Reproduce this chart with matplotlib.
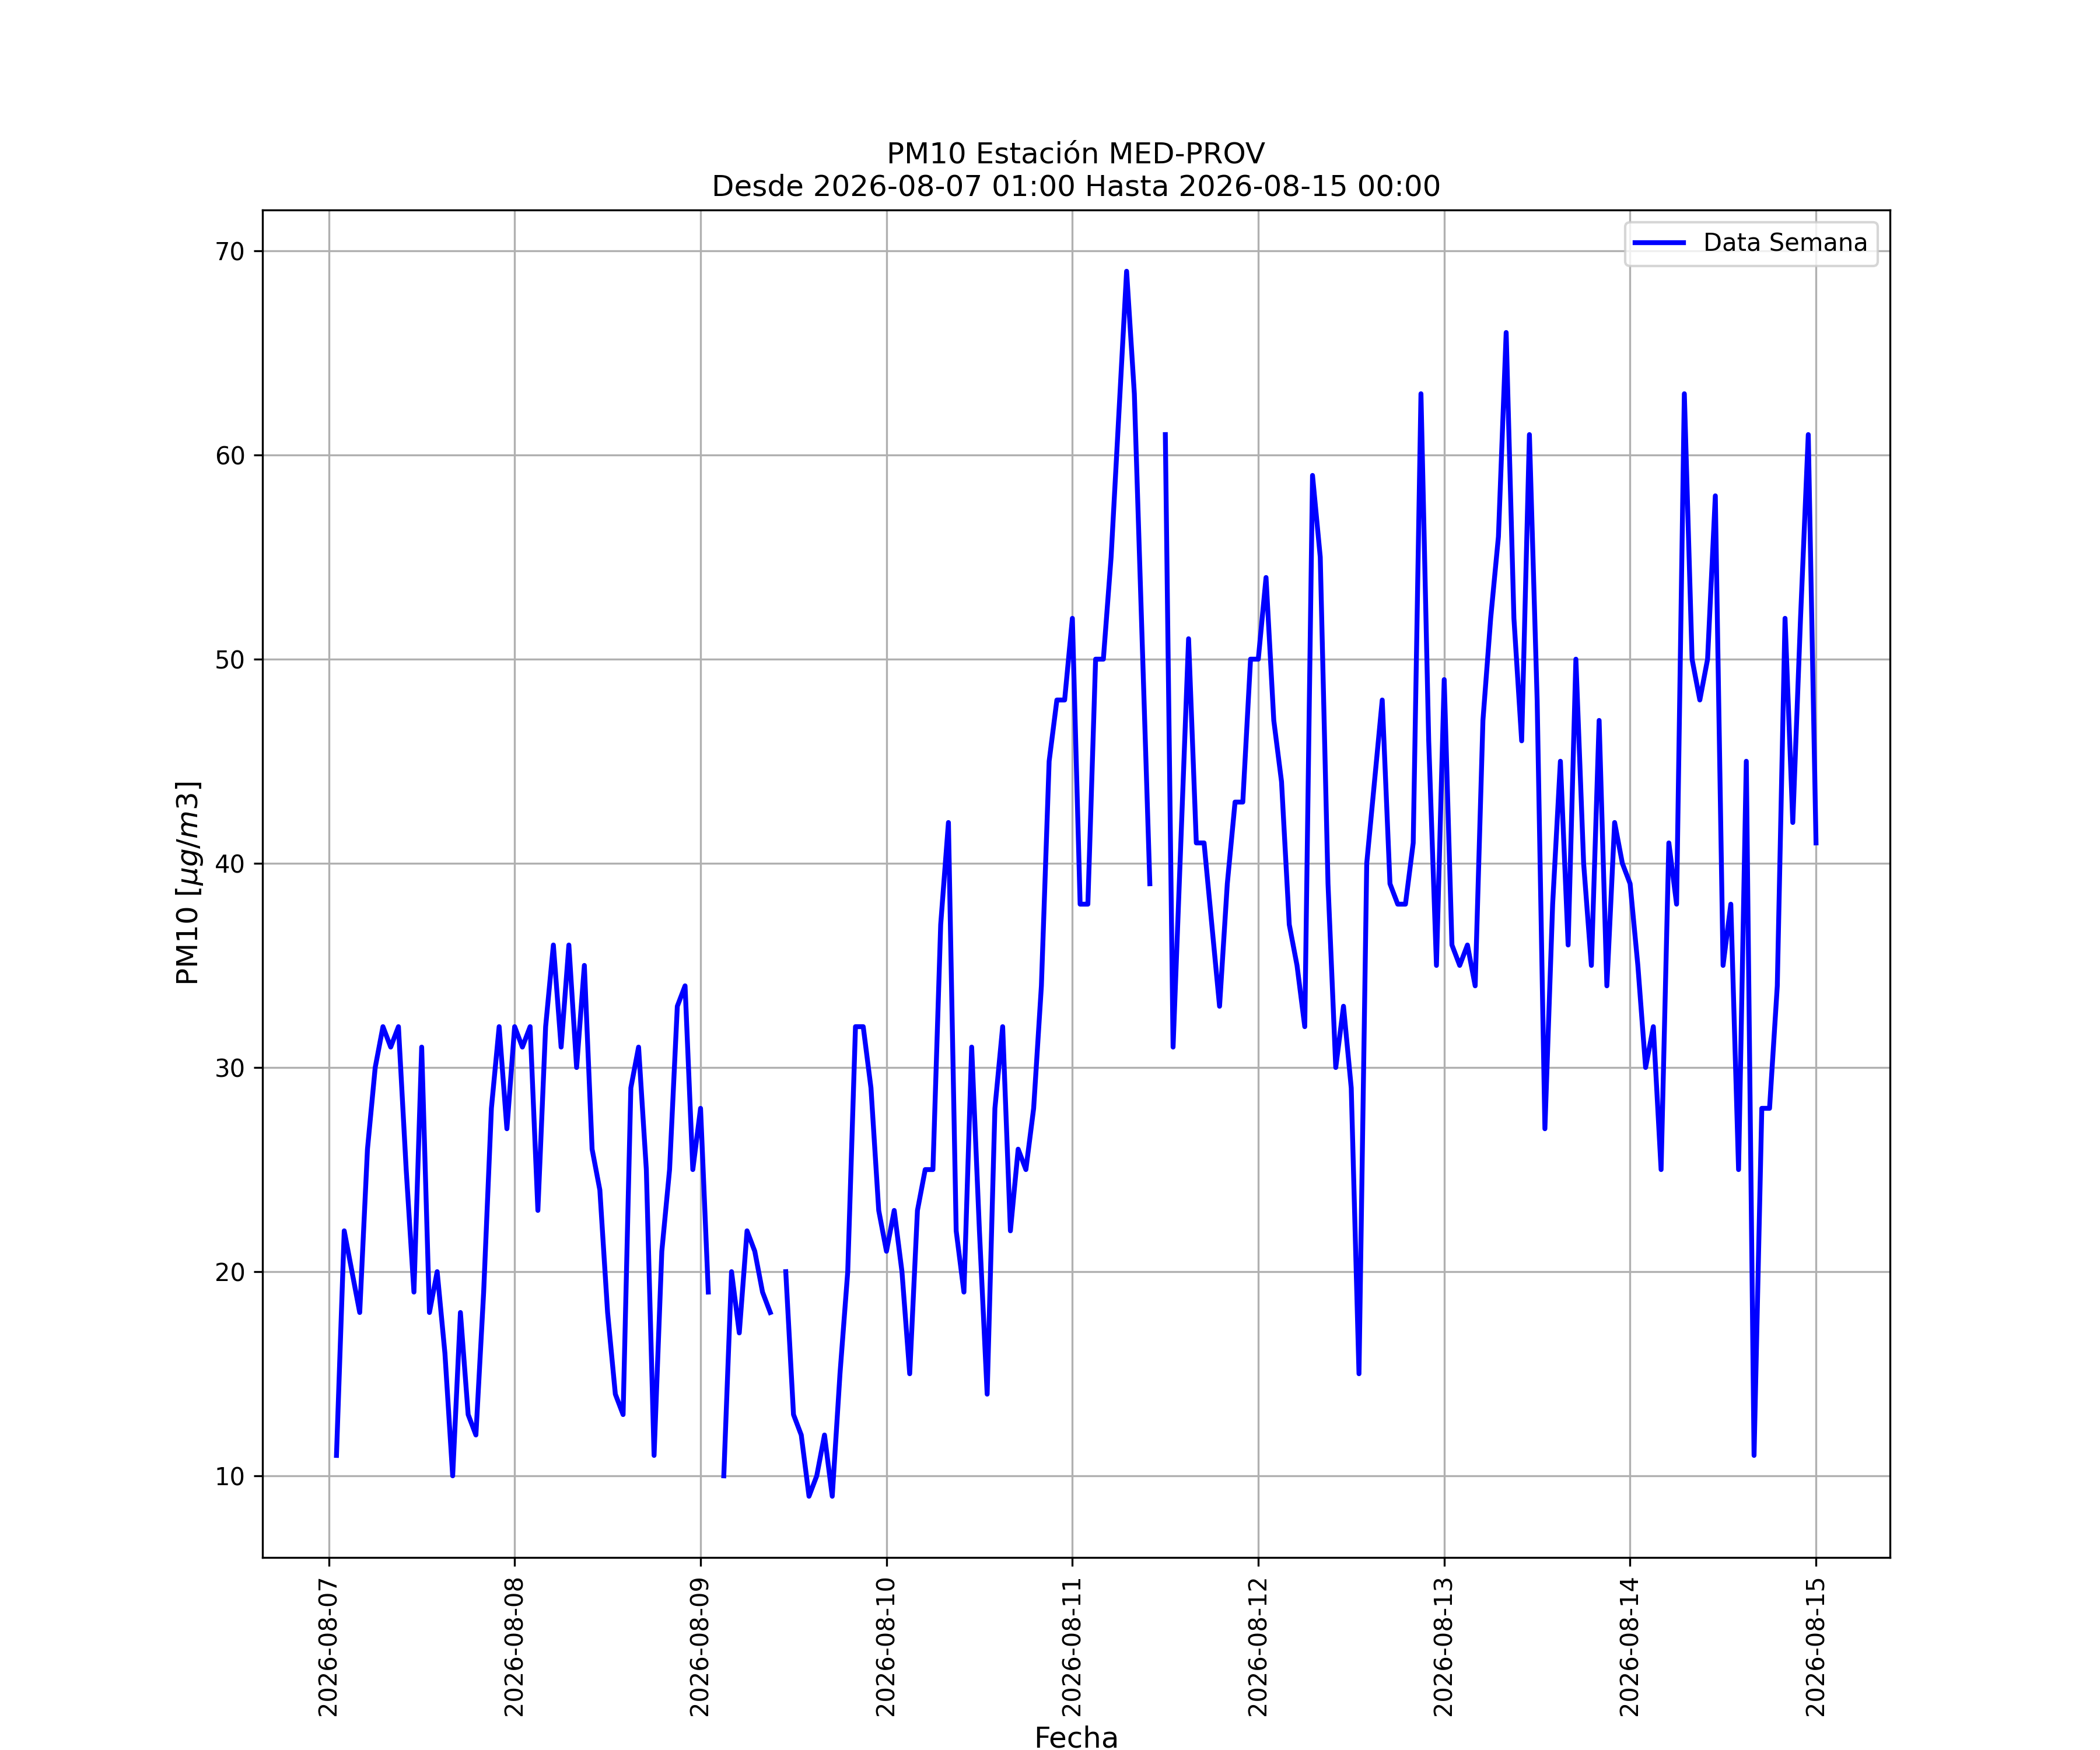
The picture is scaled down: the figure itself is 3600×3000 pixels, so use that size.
import numpy as np
import pandas as pd
import matplotlib
matplotlib.use("Agg")
import matplotlib.pyplot as plt
import matplotlib.dates as mdates

nan = np.nan

start_time = "2026-08-07 01:00"
title_text = "PM10 Estación MED-PROV\nDesde 2026-08-07 01:00 Hasta 2026-08-15 00:00"
series_label = "Data Semana"

day1 = [11, 22, 20, 18, 26, 30, 32, 31, 32, 25, 19, 31, 18, 20, 16, 10, 18, 13, 12, 19, 28, 32, 27, 32]
day2 = [31, 32, 23, 32, 36, 31, 36, 30, 35, 26, 24, 18, 14, 13, 29, 31, 25, 11, 21, 25, 33, 34, 25, 28]
day3 = [19, nan, 10, 20, 17, 22, 21, 19, 18, nan, 20, 13, 12, 9, 10, 12, 9, 15, 20, 32, 32, 29, 23, 21]
day4 = [23, 20, 15, 23, 25, 25, 37, 42, 22, 19, 31, 22, 14, 28, 32, 22, 26, 25, 28, 34, 45, 48, 48, 52]
day5 = [38, 38, 50, 50, 55, 62, 69, 63, 51, 39, nan, 61, 31, 41, 51, 41, 41, 37, 33, 39, 43, 43, 50, 50]
day6 = [54, 47, 44, 37, 35, 32, 59, 55, 39, 30, 33, 29, 15, 40, 44, 48, 39, 38, 38, 41, 63, 46, 35, 49]
day7 = [36, 35, 36, 34, 47, 52, 56, 66, 52, 46, 61, 48, 27, 38, 45, 36, 50, 40, 35, 47, 34, 42, 40, 39]
day8 = [35, 30, 32, 25, 41, 38, 63, 50, 48, 50, 58, 35, 38, 25, 45, 11, 28, 28, 34, 52, 42, 52, 61, 41]

values = np.array(day1 + day2 + day3 + day4 + day5 + day6 + day7 + day8, dtype=float)
times = pd.date_range(start_time, periods=len(values), freq="h")

fig, ax = plt.subplots(figsize=(12, 10), dpi=300)
ax.plot(times, values, color="blue", linewidth=2, label=series_label)
ax.set_title(title_text, fontsize=12)
ax.set_xlabel("Fecha", fontsize=12)
ax.set_ylabel(r"PM10 [$\mu g/m3$]", fontsize=12)
ax.xaxis.set_major_locator(mdates.DayLocator())
ax.xaxis.set_major_formatter(mdates.DateFormatter("%Y-%m-%d"))
plt.setp(ax.get_xticklabels(), rotation=90)
ax.grid(True)
ax.legend(loc="upper right")
fig.savefig("out.png", dpi=300)
